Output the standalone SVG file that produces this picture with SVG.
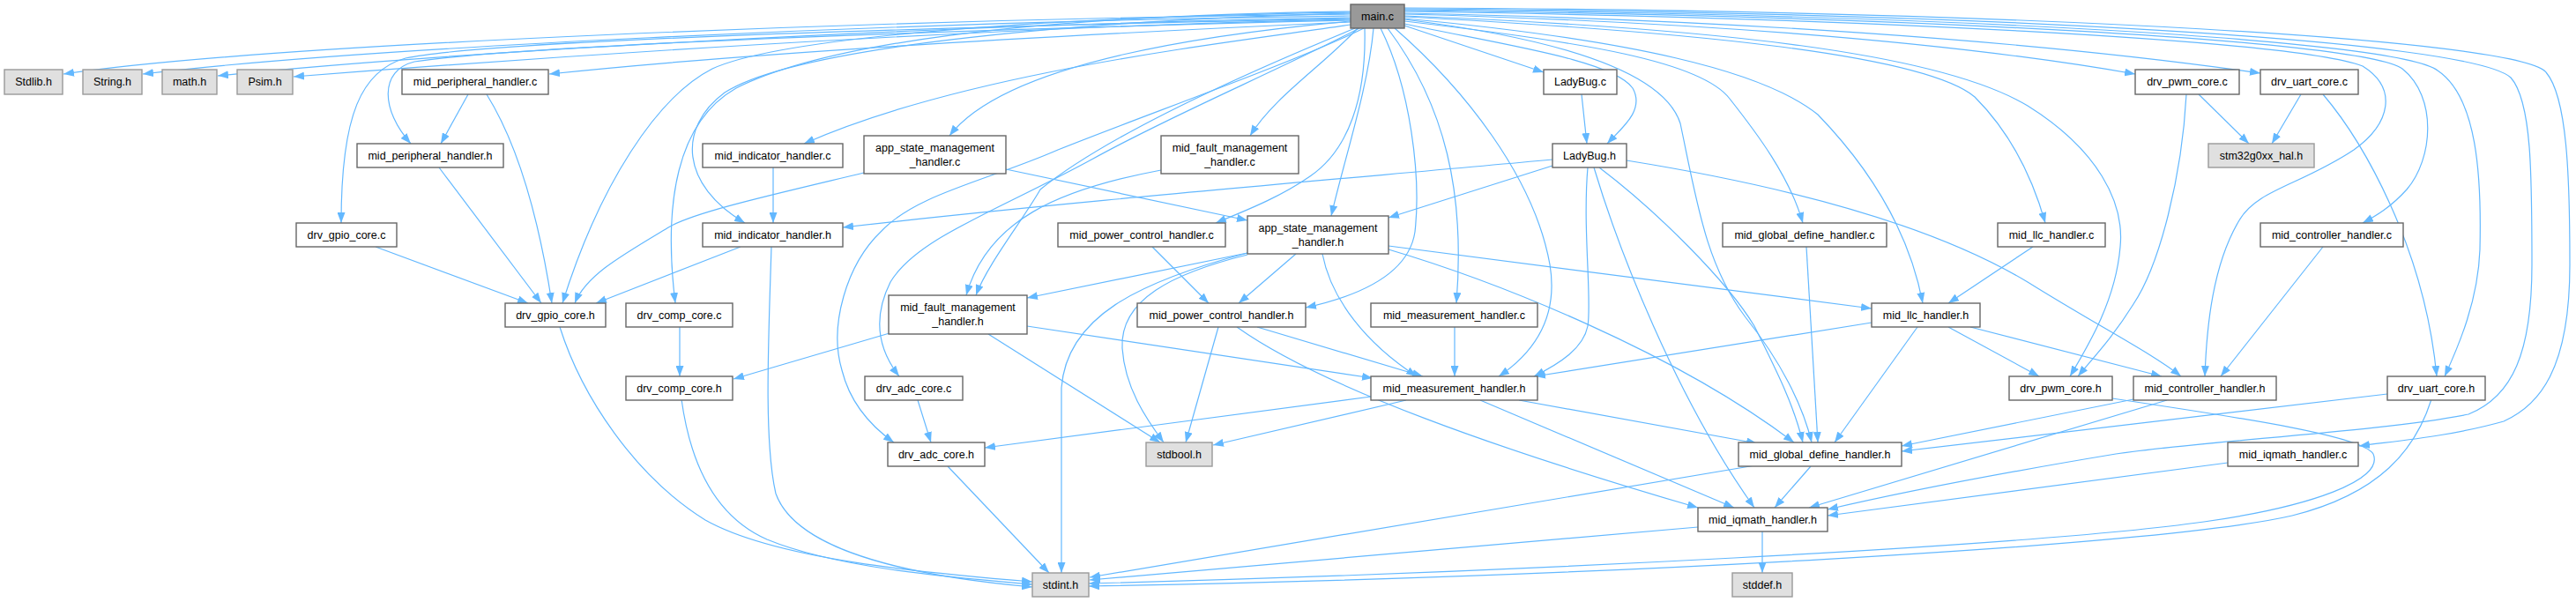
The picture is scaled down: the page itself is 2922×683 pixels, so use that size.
<svg xmlns="http://www.w3.org/2000/svg" width="2922" height="683" viewBox="0 0 2922 683">
<style>
.e{fill:none;stroke:#63b8ff;stroke-width:1.2;marker-end:url(#a)}
.n rect{fill:#fff;stroke:#666;stroke-width:1.4}
.x rect{fill:#e0e0e0;stroke:#999;stroke-width:1.4}
.m rect{fill:#999;stroke:#666;stroke-width:1.4}
text{font-family:"Liberation Sans",Arial,sans-serif;font-size:12.5px;fill:#000;text-anchor:middle}
</style>
<defs>
<marker id="a" viewBox="0 0 12 9" refX="12" refY="4.5" markerWidth="12" markerHeight="9" orient="auto" markerUnits="userSpaceOnUse"><path d="M0,0 L12,4.5 L0,9 z" fill="#63b8ff"/></marker>
</defs>
<g id="edges">
<path class="e" d="M1532,16 C1000,22 300,50 72,84"/>
<path class="e" d="M1532,18 C1000,25 400,55 162,84"/>
<path class="e" d="M1532,20 C1050,28 500,60 247,86"/>
<path class="e" d="M1532,22 C1100,31 600,66 333,87"/>
<path class="e" d="M1532,25 C1200,40 850,60 623,84"/>
<path class="e" d="M1532,23 C1150,32 600,50 470,70 C430,80 432,125 466,163"/>
<path class="e" d="M1532,21 C1100,30 560,45 460,66 C410,80 387,130 387,253"/>
<path class="e" d="M1532,14 C1150,20 880,45 808,78 C745,110 680,210 638,344"/>
<path class="e" d="M1532,13 C1150,18 930,52 835,100 C768,138 752,230 766,344"/>
<path class="e" d="M1532,15 C1200,24 900,55 822,105 C768,145 772,210 845,253"/>
<path class="e" d="M1532,28 C1400,48 1100,80 912,163"/>
<path class="e" d="M1532,24 C1300,45 1130,85 1077,154"/>
<path class="e" d="M1558,32 C1552,100 1525,180 1510,245"/>
<path class="e" d="M1540,32 C1500,75 1445,110 1418,154"/>
<path class="e" d="M1537,32 C1420,80 1260,150 1180,215 C1160,250 1120,300 1107,335"/>
<path class="e" d="M1317,193 C1200,215 1120,250 1096,335"/>
<path class="e" d="M1542,32 C1450,80 1330,130 1240,180 C1130,240 1040,270 1010,320 C990,360 995,395 1020,427"/>
<path class="e" d="M1547,32 C1470,70 1300,130 1200,170 C1120,205 1040,220 1000,262 C960,300 940,370 955,420 C965,460 990,485 1014,502"/>
<path class="e" d="M1548,32 C1550,110 1530,170 1486,200 C1450,225 1410,240 1379,253"/>
<path class="e" d="M1566,32 C1600,100 1612,200 1605,263 C1598,310 1545,335 1481,349"/>
<path class="e" d="M1574,32 C1640,120 1662,220 1652,344"/>
<path class="e" d="M1582,32 C1660,100 1740,200 1758,300 C1768,360 1740,400 1700,427"/>
<path class="e" d="M1593,29 L1751,82"/>
<path class="e" d="M1593,27 C1700,50 1830,68 1852,100 C1866,125 1840,145 1823,163"/>
<path class="e" d="M1593,24 C1800,48 1930,70 1962,112 C1992,150 2030,200 2045,253"/>
<path class="e" d="M1593,22 C1800,48 1890,90 1906,140 C1925,230 1935,300 1980,360 C2020,410 2045,460 2055,502"/>
<path class="e" d="M1593,21 C1850,45 2000,80 2062,130 C2120,190 2165,260 2181,344"/>
<path class="e" d="M1593,19 C1900,35 2180,60 2240,110 C2280,150 2305,200 2320,253"/>
<path class="e" d="M1593,18 C1950,32 2200,60 2300,120 C2380,170 2410,230 2405,280 C2400,340 2370,390 2348,427"/>
<path class="e" d="M1593,16 C1900,24 2200,45 2422,84"/>
<path class="e" d="M1593,15 C1950,22 2300,45 2564,83"/>
<path class="e" d="M1593,13 C2100,20 2600,45 2680,75 C2720,100 2712,140 2670,170 C2610,210 2560,215 2540,250 C2510,300 2503,370 2501,427"/>
<path class="e" d="M1593,12 C2150,18 2680,45 2725,78 C2765,110 2760,180 2730,215 C2712,235 2695,245 2680,253"/>
<path class="e" d="M1593,11 C2200,16 2720,45 2765,80 C2810,110 2815,200 2813,283 C2811,340 2790,390 2773,427"/>
<path class="e" d="M1593,10 C2250,14 2800,45 2848,88 C2872,115 2872,200 2872,300 C2872,400 2850,450 2800,470 C2700,490 2500,500 2400,515 C2250,540 2150,560 2073,578"/>
<path class="e" d="M1593,9 C2300,12 2860,45 2888,82 C2912,110 2915,200 2915,300 C2915,420 2880,460 2840,478 C2780,495 2720,500 2676,506"/>
<path class="e" d="M1794,107 L1800,163"/>
<path class="e" d="M1761,181 C1500,205 1200,230 956,258"/>
<path class="e" d="M1761,188 L1575,247"/>
<path class="e" d="M1801,190 C1795,260 1806,340 1801,370 C1796,395 1770,412 1740,427"/>
<path class="e" d="M1808,190 C1835,280 1900,450 1990,576"/>
<path class="e" d="M1814,190 C1880,240 1960,320 1990,370 C2015,420 2035,460 2045,502"/>
<path class="e" d="M1845,182 C2050,215 2200,260 2300,320 C2380,370 2440,400 2474,427"/>
<path class="e" d="M2049,280 L2062,502"/>
<path class="e" d="M2306,280 L2210,344"/>
<path class="e" d="M1575,279 L2123,350"/>
<path class="e" d="M2123,366 L1741,427"/>
<path class="e" d="M2175,371 L2081,502"/>
<path class="e" d="M2210,371 L2313,427"/>
<path class="e" d="M2235,371 L2452,427"/>
<path class="e" d="M2494,107 L2551,163"/>
<path class="e" d="M2610,107 L2577,163"/>
<path class="e" d="M2480,107 C2475,200 2450,300 2420,345 C2395,385 2375,405 2357,427"/>
<path class="e" d="M2635,107 C2680,160 2750,280 2764,427"/>
<path class="e" d="M2635,280 L2519,427"/>
<path class="e" d="M2420,453 L2157,506"/>
<path class="e" d="M2708,447 L2157,512"/>
<path class="e" d="M2458,454 L2052,576"/>
<path class="e" d="M2527,525 L2073,585"/>
<path class="e" d="M2396,452 C2550,475 2680,495 2692,515 C2705,545 2620,575 2500,592 C2300,620 1700,650 1235,662"/>
<path class="e" d="M2758,453 C2740,510 2700,560 2600,585 C2450,620 1800,655 1235,665"/>
<path class="e" d="M1991,528 L1236,655"/>
<path class="e" d="M1926,598 L1236,658"/>
<path class="e" d="M635,371 C660,450 720,540 800,590 C880,635 1050,650 1171,660"/>
<path class="e" d="M773,453 C785,540 820,590 870,612 C950,645 1080,655 1171,663"/>
<path class="e" d="M875,280 C872,380 866,500 880,560 C905,630 1050,655 1171,666"/>
<path class="e" d="M1415,287 C1290,320 1210,360 1204,440 L1204,650"/>
<path class="e" d="M1415,289 C1330,310 1270,340 1273,395 C1276,440 1300,475 1320,502"/>
<path class="e" d="M1415,287 L1165,338"/>
<path class="e" d="M1470,288 L1405,344"/>
<path class="e" d="M1307,280 L1371,344"/>
<path class="e" d="M1500,288 C1510,340 1550,390 1607,427"/>
<path class="e" d="M1575,283 C1700,320 1900,400 2035,502"/>
<path class="e" d="M1382,371 L1345,502"/>
<path class="e" d="M1426,371 L1614,427"/>
<path class="e" d="M1403,371 C1500,440 1700,510 1926,576"/>
<path class="e" d="M1009,378 L832,430"/>
<path class="e" d="M1121,379 L1316,502"/>
<path class="e" d="M1165,370 L1557,429"/>
<path class="e" d="M771,371 L771,427"/>
<path class="e" d="M1041,454 L1056,502"/>
<path class="e" d="M1075,529 L1190,650"/>
<path class="e" d="M1650,371 L1650,427"/>
<path class="e" d="M1555,450 L1117,508"/>
<path class="e" d="M1595,454 L1376,505"/>
<path class="e" d="M1723,454 L1993,503"/>
<path class="e" d="M1679,454 L1967,576"/>
<path class="e" d="M2054,529 L2013,576"/>
<path class="e" d="M1999,603 L1999,650"/>
<path class="e" d="M531,107 L500,163"/>
<path class="e" d="M552,107 C585,160 610,240 626,344"/>
<path class="e" d="M498,190 L614,344"/>
<path class="e" d="M426,280 L599,344"/>
<path class="e" d="M877,190 L877,253"/>
<path class="e" d="M840,280 L676,344"/>
<path class="e" d="M980,196 C880,220 790,240 760,257 C705,290 665,312 652,344"/>
<path class="e" d="M1141,192 L1415,250"/>
</g>
<g id="n_main" class="m"><rect x="1532" y="5" width="61" height="27"/><text x="1562.5" y="23">main.c</text></g>
<g id="n_stdlib" class="x"><rect x="5" y="79" width="66" height="28"/><text x="38" y="97">Stdlib.h</text></g>
<g id="n_string" class="x"><rect x="94" y="79" width="67" height="28"/><text x="127.5" y="97">String.h</text></g>
<g id="n_math" class="x"><rect x="184" y="79" width="62" height="28"/><text x="215" y="97">math.h</text></g>
<g id="n_psim" class="x"><rect x="269" y="79" width="63" height="28"/><text x="300.5" y="97">Psim.h</text></g>
<g id="n_mphc" class="n"><rect x="456" y="79" width="166" height="28"/><text x="539" y="97">mid_peripheral_handler.c</text></g>
<g id="n_lbc" class="n"><rect x="1751" y="79" width="83" height="28"/><text x="1792.5" y="97">LadyBug.c</text></g>
<g id="n_pwmc" class="n"><rect x="2422" y="79" width="118" height="28"/><text x="2481" y="97">drv_pwm_core.c</text></g>
<g id="n_uartc" class="n"><rect x="2564" y="79" width="111" height="28"/><text x="2619.5" y="97">drv_uart_core.c</text></g>
<g id="n_mphh" class="n"><rect x="405" y="163" width="166" height="27"/><text x="488" y="181">mid_peripheral_handler.h</text></g>
<g id="n_mihc" class="n"><rect x="797" y="163" width="159" height="27"/><text x="876.5" y="181">mid_indicator_handler.c</text></g>
<g id="n_asmc" class="n"><rect x="980" y="154" width="161" height="43"/><text x="1060.5" y="172">app_state_management</text><text x="1060.5" y="188">_handler.c</text></g>
<g id="n_mfmc" class="n"><rect x="1317" y="154" width="156" height="43"/><text x="1395" y="172">mid_fault_management</text><text x="1395" y="188">_handler.c</text></g>
<g id="n_lbh" class="n"><rect x="1761" y="163" width="84" height="27"/><text x="1803" y="181">LadyBug.h</text></g>
<g id="n_stm" class="x"><rect x="2505" y="163" width="120" height="27"/><text x="2565" y="181">stm32g0xx_hal.h</text></g>
<g id="n_gpioc" class="n"><rect x="336" y="253" width="114" height="27"/><text x="393" y="271">drv_gpio_core.c</text></g>
<g id="n_mihh" class="n"><rect x="797" y="253" width="159" height="27"/><text x="876.5" y="271">mid_indicator_handler.h</text></g>
<g id="n_mpcc" class="n"><rect x="1200" y="253" width="190" height="27"/><text x="1295" y="271">mid_power_control_handler.c</text></g>
<g id="n_asmh" class="n"><rect x="1415" y="245" width="160" height="43"/><text x="1495" y="263">app_state_management</text><text x="1495" y="279">_handler.h</text></g>
<g id="n_mgdc" class="n"><rect x="1954" y="253" width="186" height="27"/><text x="2047" y="271">mid_global_define_handler.c</text></g>
<g id="n_llcc" class="n"><rect x="2266" y="253" width="122" height="27"/><text x="2327" y="271">mid_llc_handler.c</text></g>
<g id="n_mchc" class="n"><rect x="2564" y="253" width="162" height="27"/><text x="2645" y="271">mid_controller_handler.c</text></g>
<g id="n_gpioh" class="n"><rect x="573" y="344" width="114" height="27"/><text x="630" y="362">drv_gpio_core.h</text></g>
<g id="n_compc" class="n"><rect x="710" y="344" width="121" height="27"/><text x="770.5" y="362">drv_comp_core.c</text></g>
<g id="n_mfmh" class="n"><rect x="1008" y="335" width="157" height="44"/><text x="1086.5" y="353">mid_fault_management</text><text x="1086.5" y="369">_handler.h</text></g>
<g id="n_mpch" class="n"><rect x="1290" y="344" width="191" height="27"/><text x="1385.5" y="362">mid_power_control_handler.h</text></g>
<g id="n_mmc" class="n"><rect x="1555" y="344" width="189" height="27"/><text x="1649.5" y="362">mid_measurement_handler.c</text></g>
<g id="n_llch" class="n"><rect x="2123" y="344" width="123" height="27"/><text x="2184.5" y="362">mid_llc_handler.h</text></g>
<g id="n_comph" class="n"><rect x="710" y="427" width="121" height="27"/><text x="770.5" y="445">drv_comp_core.h</text></g>
<g id="n_adcc" class="n"><rect x="981" y="427" width="111" height="27"/><text x="1036.5" y="445">drv_adc_core.c</text></g>
<g id="n_mmh" class="n"><rect x="1555" y="427" width="189" height="27"/><text x="1649.5" y="445">mid_measurement_handler.h</text></g>
<g id="n_pwmh" class="n"><rect x="2279" y="427" width="117" height="27"/><text x="2337.5" y="445">drv_pwm_core.h</text></g>
<g id="n_mchh" class="n"><rect x="2420" y="427" width="162" height="27"/><text x="2501" y="445">mid_controller_handler.h</text></g>
<g id="n_uarth" class="n"><rect x="2708" y="427" width="111" height="27"/><text x="2763.5" y="445">drv_uart_core.h</text></g>
<g id="n_adch" class="n"><rect x="1007" y="502" width="110" height="27"/><text x="1062" y="520">drv_adc_core.h</text></g>
<g id="n_stdbool" class="x"><rect x="1300" y="502" width="75" height="27"/><text x="1337.5" y="520">stdbool.h</text></g>
<g id="n_mgdh" class="n"><rect x="1972" y="502" width="185" height="27"/><text x="2064.5" y="520">mid_global_define_handler.h</text></g>
<g id="n_iqc" class="n"><rect x="2527" y="502" width="148" height="27"/><text x="2601" y="520">mid_iqmath_handler.c</text></g>
<g id="n_iqh" class="n"><rect x="1926" y="576" width="147" height="27"/><text x="1999.5" y="594">mid_iqmath_handler.h</text></g>
<g id="n_stdint" class="x"><rect x="1171" y="650" width="64" height="27"/><text x="1203" y="668">stdint.h</text></g>
<g id="n_stddef" class="x"><rect x="1965" y="650" width="68" height="27"/><text x="1999" y="668">stddef.h</text></g>
</svg>
